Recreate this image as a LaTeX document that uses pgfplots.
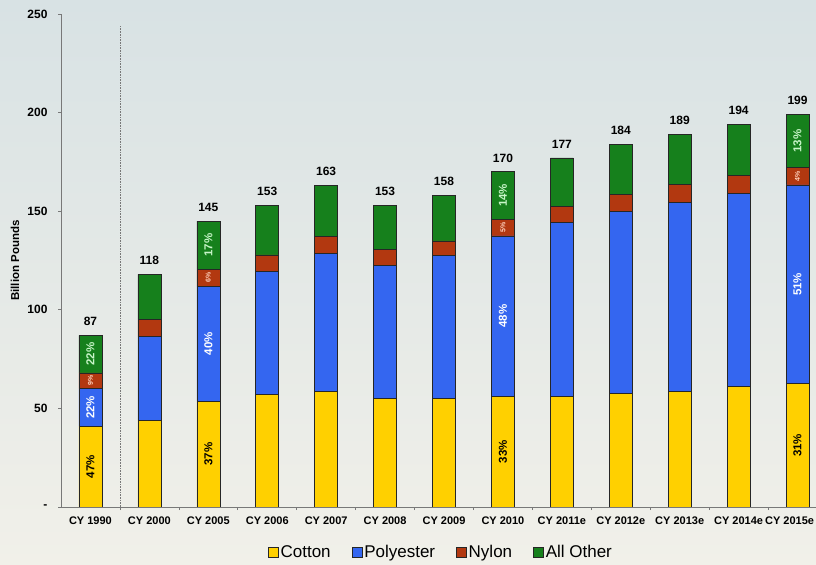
\documentclass[border=0pt]{standalone}
\usepackage{fontspec}
\setmainfont{Liberation Sans}
\usepackage{pgfplots}
\pgfplotsset{compat=1.18}
\usepackage{pgfplotstable}

\definecolor{cottonc}{RGB}{255,208,0}
\definecolor{polyc}{RGB}{52,102,240}
\definecolor{nylonc}{RGB}{178,56,16}
\definecolor{otherc}{RGB}{22,128,28}
\definecolor{bgtop}{RGB}{216,226,228}
\definecolor{bgbot}{RGB}{241,240,233}
\definecolor{axisgray}{RGB}{120,120,120}
\definecolor{nylonlab}{RGB}{255,210,190}
\definecolor{otherlab}{RGB}{200,245,200}

\newcommand\setsz[1]{\fontsize{#1}{#1}\selectfont}

% billion pounds per fibre
\pgfplotstableread{
x cotton poly nylon other total
0  41.0  19.0  8.0 19.0  87
1  44.0  42.4  8.8 22.8 118
2  53.5  58.5  8.5 24.5 145
3  57.0  62.3  8.5 25.2 153
4  58.5  70.1  8.5 25.9 163
5  55.1  67.6  8.1 22.2 153
6  55.1  72.3  7.5 23.1 158
7  56.0  81.5  8.5 24.0 170
8  56.0  88.2  8.4 24.4 177
9  57.6  92.5  8.5 25.4 184
10 58.8  95.7  9.1 25.4 189
11 61.0  98.1  8.9 26.0 194
12 62.5 100.8  9.0 26.7 199
}\fibretable

\pgfplotsset{
    frame/.style={
        at={(61bp,58bp)}, anchor=south west,
        scale only axis,
        width=766bp, height=493bp,
        xmin=-0.5, xmax=12.5,
        ymin=0, ymax=250,
    },
    share/.style={
        draw=none, mark=none, nodes near coords, point meta=explicit symbolic,
        every node near coord/.style={rotate=90, anchor=center, inner sep=0pt,
            font=\setsz{11.5bp}\bfseries, text=#1},
    },
}

\begin{document}
\begin{tikzpicture}
\path[use as bounding box] (0,0) rectangle (816bp,565bp);
\shade[top color=bgtop, bottom color=bgbot] (0,0) rectangle (816bp,565bp);
\begin{axis}[
    frame,
    ybar stacked,
    bar width=23bp,
    axis x line*=bottom,
    axis y line*=left,
    axis line style={axisgray, line width=0.6bp},
    tick align=outside,
    xtick={0,...,12},
    xticklabels={CY 1990,CY 2000,CY 2005,CY 2006,CY 2007,CY 2008,CY 2009,CY 2010,CY 2011e,CY 2012e,CY 2013e,CY 2014e,{\hspace*{-16bp}CY 2015e}},
    major x tick style={draw=none},
    minor xtick={0.5,1.5,...,11.5},
    minor x tick style={axisgray, line width=0.6bp},
    minor tick length=3bp,
    ytick={0,50,...,250},
    yticklabels={-,50,100,150,200,250},
    major tick length=3bp,
    y tick style={axisgray, line width=0.6bp},
    xticklabel style={font=\setsz{11bp}\bfseries, yshift=-3bp},
    yticklabel style={font=\setsz{12bp}\bfseries, xshift=-7bp},
    ylabel={Billion Pounds},
    ylabel style={font=\setsz{11.5bp}\bfseries, at={(axis description cs:-0.06,0.5)}, anchor=center},
    legend columns=4,
    legend style={draw=none, fill=none, at={(0.496,-0.0913)}, anchor=center,
        font=\setsz{17bp},
        /tikz/every even column/.append style={column sep=19bp}},
    legend image code/.code={\draw[#1] (0bp,-5bp) rectangle (10bp,5bp);},
]
\addplot[fill=cottonc, draw=black!85, line width=0.6bp] table[x=x, y=cotton] {\fibretable};
\addplot[fill=polyc, draw=black!85, line width=0.6bp] table[x=x, y=poly] {\fibretable};
\addplot[fill=nylonc, draw=black!85, line width=0.6bp] table[x=x, y=nylon] {\fibretable};
\addplot[fill=otherc, draw=black!85, line width=0.6bp] table[x=x, y=other] {\fibretable};
\legend{Cotton,Polyester,Nylon,All Other}
\draw[densely dotted, axisgray, line width=0.6bp] (axis cs:0.5,0) -- (axis cs:0.5,244);
\end{axis}

% labels: totals above the bars, shares inside the segments
\begin{axis}[frame, hide axis, clip=false]
\addplot[draw=none, mark=none, nodes near coords, point meta=explicit symbolic,
    every node near coord/.style={anchor=south, yshift=6bp, font=\setsz{12bp}\bfseries, text=black}]
    table[x=x, y=total, meta=total] {\fibretable};
\addplot[share=black] coordinates {(0,20.5) [47\%] (2,26.75) [37\%] (7,28) [33\%] (12,31.25) [31\%]};
\addplot[share=white] coordinates {(0,50.5) [22\%] (2,82.75) [40\%] (7,96.75) [48\%] (12,112.9) [51\%]};
\addplot[share=nylonlab, every node near coord/.append style={font=\setsz{7bp}\bfseries}]
    coordinates {(0,64) [9\%] (2,116.25) [6\%] (7,141.75) [5\%] (12,167.8) [4\%]};
\addplot[share=otherlab] coordinates {(0,77.5) [22\%] (2,132.75) [17\%] (7,158) [14\%] (12,185.6) [13\%]};
\end{axis}
\end{tikzpicture}
\end{document}
